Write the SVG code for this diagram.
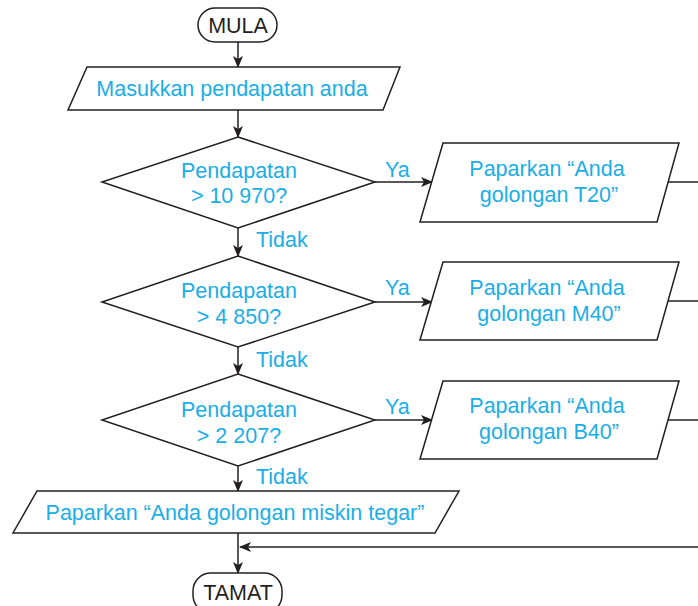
<svg xmlns="http://www.w3.org/2000/svg" width="698" height="606" viewBox="0 0 698 606">
<style>
.s{fill:#fff;stroke:#231f20;stroke-width:1.5}
.l{fill:none;stroke:#231f20;stroke-width:1.5}
.t{font-family:"Liberation Sans",Arial,sans-serif;font-size:21.5px;fill:#1aaee6;text-anchor:middle}
.k{font-family:"Liberation Sans",Arial,sans-serif;font-size:21.5px;fill:#231f20;text-anchor:middle}
.lb{font-family:"Liberation Sans",Arial,sans-serif;font-size:21.5px;fill:#1aaee6}
</style>
<defs>
<marker id="a" markerWidth="12" markerHeight="10" refX="11" refY="5" orient="auto" markerUnits="userSpaceOnUse">
<path d="M0,0 L12,5 L0,10 L3,5 Z" fill="#231f20"/>
</marker>
</defs>
<rect width="698" height="606" fill="#fff"/>
<g id="connectors">
<line class="l" x1="238" y1="42" x2="238" y2="67" marker-end="url(#a)"/>
<line class="l" x1="238" y1="110" x2="238" y2="137" marker-end="url(#a)"/>
<line class="l" x1="238" y1="228" x2="238" y2="256" marker-end="url(#a)"/>
<line class="l" x1="238" y1="347" x2="238" y2="374" marker-end="url(#a)"/>
<line class="l" x1="238" y1="466" x2="238" y2="491" marker-end="url(#a)"/>
<line class="l" x1="238" y1="533" x2="238" y2="573" marker-end="url(#a)"/>
<line class="l" x1="375" y1="182" x2="432" y2="182" marker-end="url(#a)"/>
<line class="l" x1="375" y1="302" x2="432" y2="302" marker-end="url(#a)"/>
<line class="l" x1="375" y1="420" x2="432" y2="420" marker-end="url(#a)"/>
<line class="l" x1="668" y1="182" x2="698" y2="182"/>
<line class="l" x1="668" y1="301" x2="698" y2="301"/>
<line class="l" x1="668" y1="420" x2="698" y2="420"/>
<line class="l" x1="698" y1="547" x2="240" y2="547" marker-end="url(#a)"/>
<text class="lb" x="385" y="177">Ya</text>
<text class="lb" x="385" y="295">Ya</text>
<text class="lb" x="385" y="414">Ya</text>
<text class="lb" x="256" y="247">Tidak</text>
<text class="lb" x="256" y="367">Tidak</text>
<text class="lb" x="256" y="484">Tidak</text>
</g>
<g id="mula">
<rect class="s" x="198" y="8" width="79" height="34" rx="17"/>
<text class="k" x="238" y="33">MULA</text>
</g>
<g id="input">
<polygon class="s" points="87,67 400,67 383,110 68,110"/>
<text class="t" x="232" y="96">Masukkan pendapatan anda</text>
</g>
<g id="d1">
<polygon class="s" points="238,137 375,182 238,228 102,182"/>
<text class="t" x="239" y="178">Pendapatan</text>
<text class="t" x="239" y="203">&gt; 10 970?</text>
</g>
<g id="o1">
<polygon class="s" points="443,143 679,143 657,222 420,222"/>
<text class="t" x="547" y="176">Paparkan “Anda</text>
<text class="t" x="549" y="202">golongan T20”</text>
</g>
<g id="d2">
<polygon class="s" points="238,256 375,302 238,347 102,302"/>
<text class="t" x="239" y="298">Pendapatan</text>
<text class="t" x="239" y="324">&gt; 4 850?</text>
</g>
<g id="o2">
<polygon class="s" points="443,262 679,262 657,340 420,340"/>
<text class="t" x="547" y="295">Paparkan “Anda</text>
<text class="t" x="549" y="321">golongan M40”</text>
</g>
<g id="d3">
<polygon class="s" points="238,374 375,420 238,466 102,420"/>
<text class="t" x="239" y="417">Pendapatan</text>
<text class="t" x="239" y="443">&gt; 2 207?</text>
</g>
<g id="o3">
<polygon class="s" points="443,381 679,381 657,459 420,459"/>
<text class="t" x="547" y="413">Paparkan “Anda</text>
<text class="t" x="549" y="439">golongan B40”</text>
</g>
<g id="o4">
<polygon class="s" points="37,491 459,491 435,533 13,533"/>
<text class="t" x="235" y="520">Paparkan “Anda golongan miskin tegar”</text>
</g>
<g id="tamat">
<rect class="s" x="193" y="573" width="89" height="40" rx="18"/>
<text class="k" x="238" y="600">TAMAT</text>
</g>
</svg>
